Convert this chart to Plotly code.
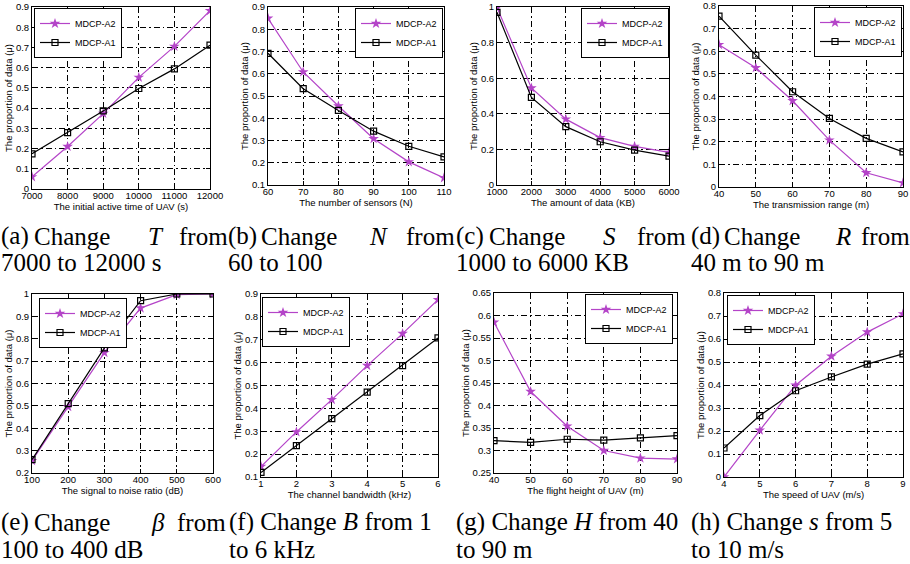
import plotly.graph_objects as go

# ---------------- data ----------------
x_a = [7000, 8000, 9000, 10000, 11000, 12000]
a2_a = [0.06, 0.21, 0.373, 0.552, 0.705, 0.882]
a1_a = [0.174, 0.279, 0.386, 0.497, 0.594, 0.711]

x_b = [60, 70, 80, 90, 100, 110]
a2_b = [0.849, 0.608, 0.455, 0.308, 0.204, 0.132]
a1_b = [0.692, 0.533, 0.435, 0.342, 0.274, 0.226]

x_c = [1000, 2000, 3000, 4000, 5000, 6000]
a2_c = [0.997, 0.545, 0.370, 0.266, 0.217, 0.183]
a1_c = [0.97, 0.492, 0.328, 0.243, 0.196, 0.162]

x_d = [40, 50, 60, 70, 80, 90]
a2_d = [0.629, 0.527, 0.381, 0.207, 0.063, 0.018]
a1_d = [0.755, 0.583, 0.421, 0.303, 0.215, 0.155]

x_e = [100, 200, 300, 400, 500, 600]
a2_e = [0.255, 0.496, 0.738, 0.937, 0.997, 1.0]
a1_e = [0.26, 0.51, 0.759, 0.97, 1.0, 1.0]

x_f = [1, 2, 3, 4, 5, 6]
a2_f = [0.146, 0.297, 0.438, 0.587, 0.727, 0.875]
a1_f = [0.12, 0.237, 0.355, 0.471, 0.587, 0.708]

x_g = [40, 50, 60, 70, 80, 90]
a2_g = [0.585, 0.431, 0.354, 0.300, 0.283, 0.281]
a1_g = [0.322, 0.318, 0.325, 0.323, 0.328, 0.333]

x_h = [4, 5, 6, 7, 8, 9]
a2_h = [0.0, 0.203, 0.399, 0.525, 0.630, 0.709]
a1_h = [0.126, 0.267, 0.375, 0.435, 0.491, 0.535]

x_titles = ["The initial active time of UAV (s)", "The number of sensors (N)",
            "The amount of data (KB)", "The transmission range (m)",
            "The signal to noise ratio (dB)", "The channel bandwidth (kHz)",
            "The flight height of UAV (m)", "The speed of UAV (m/s)"]
y_title = "The proportion of data (\u03bc)"
series_names = ["MDCP-A2", "MDCP-A1"]

y_ranges = [(0, 0.9, 0.1), (0.1, 0.9, 0.1), (0, 1, 0.2), (0, 0.8, 0.1),
            (0.2, 1, 0.1), (0.1, 0.9, 0.1), (0.25, 0.65, 0.05), (0, 0.8, 0.1)]
x_steps = [1000, 10, 1000, 10, 100, 1, 10, 1]

captions_l1 = [
    [("(a)", 0), ("Change", 33), ("<i>T</i>", 147), ("from", 178)],
    [("(b)", 227), ("Change", 260), ("<i>N</i>", 368), ("from", 405)],
    [("(c)", 455), ("Change", 488), ("<i>S</i>", 602), ("from", 636)],
    [("(d)", 690), ("Change", 723), ("<i>R</i>", 834), ("from", 860)],
    [("(e)", 0), ("Change", 33), ("<i>\u03b2</i>", 150), ("from", 176)],
    [("(f) Change <i>B</i> from 1", 228)],
    [("(g) Change <i>H</i> from 40", 455)],
    [("(h) Change <i>s</i> from 5", 690)],
]
captions_l2 = [("7000 to 12000 s", 0), ("60 to 100", 227), ("1000 to 6000 KB", 455),
               ("40 m to 90 m", 690), ("100 to 400 dB", 0), ("to 6 kHz", 228),
               ("to 90 m", 455), ("to 10 m/s", 690)]

# --------------- layout geometry (pixels) ---------------
W, H = 910, 564
boxes = [(32, 210, 7, 189), (268, 444, 7, 185), (497, 669, 7, 185), (719, 903, 6, 187),
         (32, 213, 294, 473), (261, 438, 294, 477), (494, 677, 293, 473), (724, 903, 293, 477)]
legend_pos = [("left", 34, 8), ("right", 443, 8), ("right", 669, 8), ("right", 902, 7),
              ("left", 39, 298), ("left", 262, 297), ("right", 673, 294), ("left", 727, 295)]
cap_rows = [(236, 262), (522, 549)]
CAP_FONT = dict(family='"Liberation Serif", "Times New Roman", serif', size=25, color="black")

PURPLE = "#B444C8"
xs = [x_a, x_b, x_c, x_d, x_e, x_f, x_g, x_h]
a2s = [a2_a, a2_b, a2_c, a2_d, a2_e, a2_f, a2_g, a2_h]
a1s = [a1_a, a1_b, a1_c, a1_d, a1_e, a1_f, a1_g, a1_h]

fig = go.Figure()
annotations = []
layout = dict(width=W, height=H, margin=dict(l=0, r=0, t=0, b=0, pad=0, autoexpand=False),
              plot_bgcolor="white", paper_bgcolor="white", showlegend=True,
              font=dict(family='"Liberation Sans", Arial, sans-serif', size=9, color="black"))

for i in range(8):
    n = "" if i == 0 else str(i + 1)
    lg = "legend" if i == 0 else "legend" + str(i + 1)
    xa = "x" + n
    ya = "y" + n
    fig.add_trace(go.Scatter(x=xs[i], y=a2s[i], name=series_names[0], mode="lines+markers",
                             line=dict(color=PURPLE, width=1.2),
                             marker=dict(symbol="star", size=8, color=PURPLE),
                             xaxis=xa, yaxis=ya, legend=lg))
    fig.add_trace(go.Scatter(x=xs[i], y=a1s[i], name=series_names[1], mode="lines+markers",
                             line=dict(color="black", width=1.2),
                             marker=dict(symbol="square-open", size=6, color="black",
                                         line=dict(width=1.2, color="black")),
                             xaxis=xa, yaxis=ya, legend=lg))
    l, r, t, b = boxes[i]
    x0, x1 = xs[i][0], xs[i][-1]
    y0, y1, ys = y_ranges[i]
    common = dict(showline=True, linecolor="black", linewidth=1, mirror="ticks",
                  ticks="inside", ticklen=4, tickcolor="black",
                  showgrid=True, gridcolor="black", gridwidth=0.7,
                  griddash="6px,3px,1.5px,3px", zeroline=False, automargin=True,
                  tickfont=dict(size=9.5))
    layout["xaxis" + n] = dict(domain=[l / W, r / W], anchor=ya, range=[x0, x1],
                               tick0=x0, dtick=x_steps[i], tickformat="d",
                               ticklabelstandoff=-2,
                               title=dict(text=x_titles[i], standoff=1,
                                          font=dict(size=9.5)), **common)
    layout["yaxis" + n] = dict(domain=[1 - b / H, 1 - t / H], anchor=xa, range=[y0, y1],
                               tick0=y0, dtick=ys,
                               title=dict(text=y_title, standoff=1,
                                          font=dict(size=9.5)), **common)
    side, lx, ly = legend_pos[i]
    layout[lg] = dict(x=lx / W, y=1 - ly / H, xanchor=side, yanchor="top",
                      bgcolor="white", bordercolor="black", borderwidth=1,
                      font=dict(size=9),
                      itemwidth=30, tracegroupgap=0)
    row = 0 if i < 4 else 1
    for word, wx in captions_l1[i]:
        annotations.append(dict(text=word, x=wx / W, y=1 - cap_rows[row][0] / H,
                                xref="paper", yref="paper", xanchor="left", yanchor="middle",
                                showarrow=False, borderpad=0, font=CAP_FONT))
    t2, wx2 = captions_l2[i]
    annotations.append(dict(text=t2, x=wx2 / W, y=1 - cap_rows[row][1] / H,
                            xref="paper", yref="paper", xanchor="left", yanchor="middle",
                            showarrow=False, borderpad=0, font=CAP_FONT))

layout["annotations"] = annotations
fig.update_layout(**layout)
fig.write_html("out.html", config={"displayModeBar": False},
               post_script="document.body.style.margin='0';document.body.style.padding='0';"
                           "document.documentElement.style.overflow='hidden';")
